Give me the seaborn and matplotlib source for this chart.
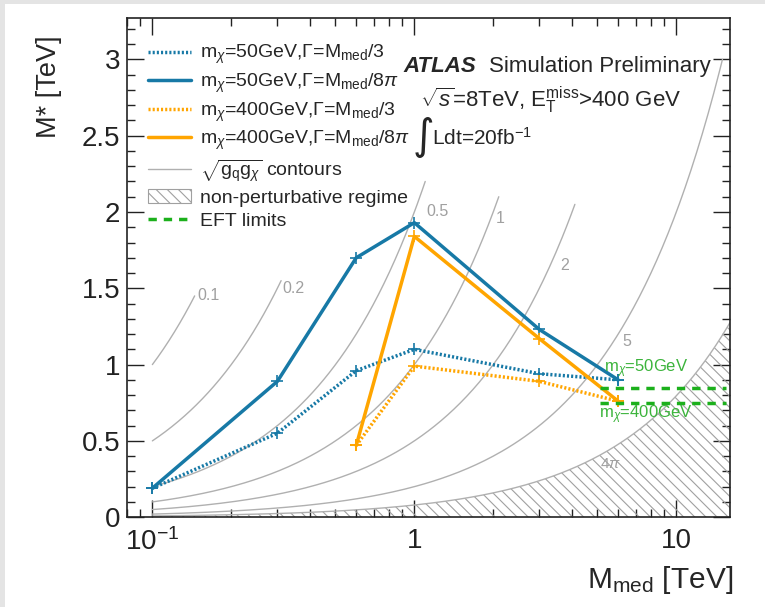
import numpy as np
import matplotlib.pyplot as plt
import seaborn as sns
from matplotlib.lines import Line2D
from matplotlib.patches import Patch, Rectangle
from matplotlib.ticker import FixedLocator, FixedFormatter, LogLocator, MultipleLocator, NullFormatter

# Mediator masses [TeV]
mmed_50 = [0.1, 0.3, 0.6, 1, 3, 6]
mmed_400 = [0.6, 1, 3, 6]

# Lower limits on M* [TeV]
mstar_50_w3 = [0.19, 0.55, 0.96, 1.10, 0.94, 0.90]
mstar_50_w8pi = [0.19, 0.89, 1.70, 1.93, 1.23, 0.90]
mstar_400_w3 = [0.47, 0.99, 0.89, 0.76]
mstar_400_w8pi = [0.47, 1.84, 1.17, 0.76]

# EFT limits [TeV] for the two DM masses
eft_limits = [0.845, 0.745]
eft_names = [r'$\mathrm{m}_{\chi}$=50GeV', r'$\mathrm{m}_{\chi}$=400GeV']

# sqrt(gq gchi) contours, M* = M_med / coupling
couplings = [0.1, 0.2, 0.5, 1, 2, 5]
coupling_labels = ['0.1', '0.2', '0.5', '1', '2', '5']
contour_mmax = [0.145, 0.31, 1.1, 2.1, 4.1, 15]
coupling_4pi = 4 * np.pi

series_labels = [
    r'$\mathrm{m}_{\chi}$=50GeV,$\Gamma$=$\mathrm{M}_{\mathrm{med}}$/3',
    r'$\mathrm{m}_{\chi}$=50GeV,$\Gamma$=$\mathrm{M}_{\mathrm{med}}$/8$\pi$',
    r'$\mathrm{m}_{\chi}$=400GeV,$\Gamma$=$\mathrm{M}_{\mathrm{med}}$/3',
    r'$\mathrm{m}_{\chi}$=400GeV,$\Gamma$=$\mathrm{M}_{\mathrm{med}}$/8$\pi$',
]
xtick_values = [0.1, 1, 10]
xtick_labels = [r'$10^{-1}$', '1', '10']

sns.set_theme(style='ticks')
plt.rcParams['font.family'] = ['Liberation Sans', 'DejaVu Sans']
plt.rcParams['mathtext.fontset'] = 'custom'
plt.rcParams['mathtext.rm'] = 'Liberation Sans'
plt.rcParams['mathtext.it'] = 'Liberation Sans:italic'
plt.rcParams['mathtext.bf'] = 'Liberation Sans:bold'
plt.rcParams['hatch.color'] = '#a0a0a0'
plt.rcParams['hatch.linewidth'] = 0.8

blue = '#1779a6'
orange = '#ffa500'
green = '#1cb01c'
grey = '#b0b0b0'
dots = (0, (0.6, 0.6))

fig, ax = plt.subplots(figsize=(7.65, 6.07), dpi=100)
fig.subplots_adjust(left=0.166, right=0.954, bottom=0.148, top=0.970)
fig.patches.append(Rectangle((0, 0), 5 / 765, 1, transform=fig.transFigure,
                             facecolor='#e4e4e4', edgecolor='none', zorder=0))
fig.patches.append(Rectangle((0, 1 - 4 / 607), 1, 4 / 607, transform=fig.transFigure,
                             facecolor='#e4e4e4', edgecolor='none', zorder=0))

# non-perturbative region below 4pi contour
m = np.geomspace(0.1, 16, 300)
ax.fill_between(m, 0, m / coupling_4pi, facecolor='none', edgecolor='#a0a0a0',
                hatch='\\\\\\', lw=0)
ax.plot(m, m / coupling_4pi, color=grey, lw=1)
ax.text(5.1, 0.35, r'4$\pi$', color='#a0a0a0', fontsize=11, va='center')

# coupling contours
label_pos = [(0.148, 1.45), (0.313, 1.50), (1.11, 2.0), (2.05, 1.96), (3.6, 1.65), (6.2, 1.15)]
for c, mmax, lab, pos in zip(couplings, contour_mmax, coupling_labels, label_pos):
    mm = np.geomspace(0.1, mmax, 200)
    ax.plot(mm, mm / c, color=grey, lw=1)
    ax.text(pos[0], pos[1], lab, color='#a0a0a0', fontsize=11.5, va='center', ha='left')

# limit curves
series = [
    (mmed_50, mstar_50_w3, blue, dots),
    (mmed_50, mstar_50_w8pi, blue, '-'),
    (mmed_400, mstar_400_w3, orange, dots),
    (mmed_400, mstar_400_w8pi, orange, '-'),
]
for x, y, col, ls in series:
    sns.lineplot(x=x, y=y, ax=ax, color=col, linestyle=ls, lw=2.5, marker='+',
                 markersize=8, markeredgewidth=1.2, markeredgecolor=col,
                 sort=False, estimator=None, legend=False)

# EFT limits
for y, name in zip(eft_limits, eft_names):
    ax.hlines(y, 5.1, 15.5, colors=green, linestyles=(0, (2.4, 2)), lw=2.5)
ax.text(5.3, 0.97, eft_names[0], color='#3cb43c', fontsize=12, va='center')
ax.text(5.05, 0.67, eft_names[1], color='#3cb43c', fontsize=12, va='center')

ax.set_xscale('log')
ax.set_xlim(0.08, 16)
ax.set_ylim(0, 3.27)
ax.xaxis.set_major_locator(FixedLocator(xtick_values))
ax.xaxis.set_major_formatter(FixedFormatter(xtick_labels))
ax.xaxis.set_minor_locator(LogLocator(base=10, subs=np.arange(2, 10)))
ax.xaxis.set_minor_formatter(NullFormatter())
ax.yaxis.set_major_locator(MultipleLocator(0.5))
ax.yaxis.set_minor_locator(MultipleLocator(0.1))
ax.yaxis.set_major_formatter(plt.FuncFormatter(lambda v, p: f'{v:g}'))
ax.tick_params(which='both', direction='in', top=True, right=True, width=1, colors='#222222')
ax.tick_params(which='major', length=12, labelsize=20)
ax.tick_params(axis='x', which='major', pad=8)
ax.tick_params(axis='y', which='major', pad=5)
ax.tick_params(which='minor', length=6)
for s in ax.spines.values():
    s.set_linewidth(1.2)
    s.set_color('#222222')

ax.set_xlabel(r'$\mathrm{M}_{\mathrm{med}}$ [TeV]', loc='right', fontsize=21.5)
ax.set_ylabel('M* [TeV]', loc='top', fontsize=19.5)
ax.xaxis.set_label_coords(1.006, -0.093)
ax.yaxis.set_label_coords(-0.108, 0.966)

# legend
handles = [
    Line2D([], [], color=blue, ls=dots, lw=2.5),
    Line2D([], [], color=blue, ls='-', lw=2.5),
    Line2D([], [], color=orange, ls=dots, lw=2.5),
    Line2D([], [], color=orange, ls='-', lw=2.5),
    Line2D([], [], color=grey, lw=1),
    Patch(facecolor='none', edgecolor='#a0a0a0', hatch='\\\\\\', lw=0.8),
    Line2D([], [], color=green, ls=(0, (2.4, 2)), lw=2.5),
]
labels = series_labels + [r'$\sqrt{\mathrm{g}_{\mathrm{q}}\mathrm{g}_{\chi}}$ contours',
                          'non-perturbative regime', 'EFT limits']
ax.legend(handles, labels, loc='upper left', bbox_to_anchor=(0.035, 0.95), frameon=False,
          fontsize=14, handlelength=2.2, handletextpad=0.45, labelspacing=0.28,
          borderpad=0, borderaxespad=0)

# ATLAS label
ax.text(0.458, 0.904, 'ATLAS', transform=ax.transAxes, fontsize=16, fontweight='bold',
        fontstyle='italic', va='center')
ax.text(0.601, 0.904, 'Simulation Preliminary', transform=ax.transAxes, fontsize=16, va='center')
ax.text(0.486, 0.836, r'$\sqrt{s}$=8TeV, $\mathrm{E}_{\mathrm{T}}^{\mathrm{miss}}$>400 GeV',
        transform=ax.transAxes, fontsize=16, va='center')
ax.text(0.474, 0.762, '\u222b', transform=ax.transAxes, fontsize=30, va='center',
        family=['DejaVu Sans'])
ax.text(0.506, 0.76, r'Ldt=20fb$^{-1}$', transform=ax.transAxes, fontsize=15, va='center')

fig.savefig('out.png', dpi=100)
